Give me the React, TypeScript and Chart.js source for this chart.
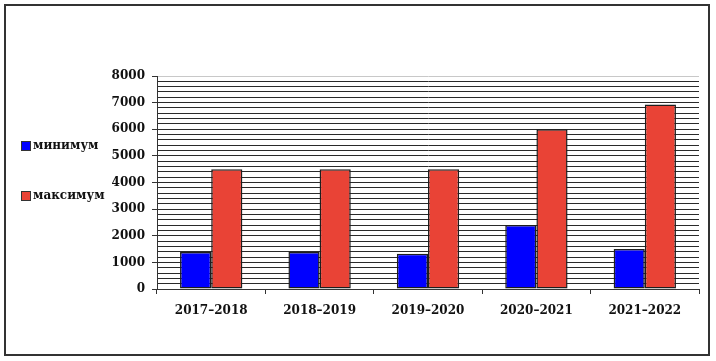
import React, { useEffect, useRef } from "react";
import { Chart, registerables } from "chart.js";

Chart.register(...registerables);

const categories = ["2017–2018", "2018–2019", "2019–2020", "2020–2021", "2021–2022"];
const minimumValues = [1390, 1390, 1320, 2400, 1500];
const maximumValues = [4500, 4500, 4500, 6000, 6930];
const seriesLabels = ["минимум", "максимум"];
const seriesColors = ["#0000FF", "#E94336"];

const FONT = "'DejaVu Serif', serif";

const framePlugin = {
  id: "frame",
  beforeDraw(chart: any) {
    const ctx = chart.ctx;
    ctx.save();
    ctx.fillStyle = "#ffffff";
    ctx.fillRect(0, 0, chart.width, chart.height);
    ctx.strokeStyle = "#333333";
    ctx.lineWidth = 2;
    ctx.strokeRect(5, 5, 704, 350);
    ctx.restore();
  },
};

const legendPlugin = {
  id: "sideLegend",
  afterDraw(chart: any) {
    const ctx = chart.ctx;
    ctx.save();
    chart.data.datasets.forEach((ds: any, i: number) => {
      const cy = 146 + i * 50;
      ctx.fillStyle = ds.backgroundColor;
      ctx.fillRect(21, cy - 4.5, 9, 9);
      ctx.strokeStyle = "#333333";
      ctx.lineWidth = 1;
      ctx.strokeRect(21.5, cy - 4.5, 9, 9);
      ctx.fillStyle = "#111111";
      ctx.font = `bold 12px ${FONT}`;
      ctx.textBaseline = "middle";
      ctx.textAlign = "left";
      ctx.fillText(ds.label, 33, cy);
    });
    ctx.restore();
  },
};

export default function App() {
  const ref = useRef<HTMLCanvasElement | null>(null);
  useEffect(() => {
    if (!ref.current) return;
    const chart = new Chart(ref.current, {
      type: "bar",
      data: {
        labels: categories,
        datasets: [
          {
            label: seriesLabels[0],
            data: minimumValues,
            backgroundColor: seriesColors[0],
            borderColor: "#1e1e1e",
            borderWidth: 1.5,
            borderSkipped: false,
          },
          {
            label: seriesLabels[1],
            data: maximumValues,
            backgroundColor: seriesColors[1],
            borderColor: "#1e1e1e",
            borderWidth: 1.5,
            borderSkipped: false,
          },
        ],
      },
      options: {
        responsive: false,
        animation: false,
        devicePixelRatio: 1,
        layout: { padding: { left: 0, right: 17, top: 76, bottom: 0 } },
        datasets: { bar: { categoryPercentage: 0.575, barPercentage: 1 } },
        plugins: { legend: { display: false }, tooltip: { enabled: false } },
        scales: {
          x: {
            offset: true,
            grid: {
              offset: true,
              drawOnChartArea: true,
              drawTicks: true,
              tickLength: 5,
              color: (c: any) => (c.index === categories.length ? "#c8c8c8" : "rgba(0,0,0,0)"),
              tickColor: "#333333",
            },
            border: { display: true, color: "#333333", width: 1 },
            ticks: {
              color: "#111111",
              font: { family: FONT, weight: "bold", size: 12 },
              padding: 10,
              maxRotation: 0,
            },
            afterFit: (s: any) => {
              s.height = 72;
            },
          },
          y: {
            min: 0,
            max: 8000,
            grid: {
              color: (c: any) => (c.tick && c.tick.value === 8000 ? "#c8c8c8" : "#2a2a2a"),
              tickColor: (c: any) => (c.tick && c.tick.value % 1000 === 0 ? "#333333" : "rgba(0,0,0,0)"),
              tickLength: 5,
              lineWidth: 1,
            },
            border: { display: true, color: "#333333", width: 1 },
            ticks: {
              stepSize: 200,
              autoSkip: false,
              color: "#111111",
              font: { family: FONT, weight: "bold", size: 12 },
              padding: 7,
              callback: (v: any) => (Number(v) % 1000 === 0 ? String(v) : ""),
            },
            afterFit: (s: any) => {
              s.width = 157;
            },
          },
        },
      },
      plugins: [framePlugin, legendPlugin],
    });
    return () => chart.destroy();
  }, []);
  return (
    <canvas
      ref={ref}
      width={716}
      height={361}
      style={{ position: "fixed", left: 0, top: 0, width: 716, height: 361 }}
    />
  );
}
